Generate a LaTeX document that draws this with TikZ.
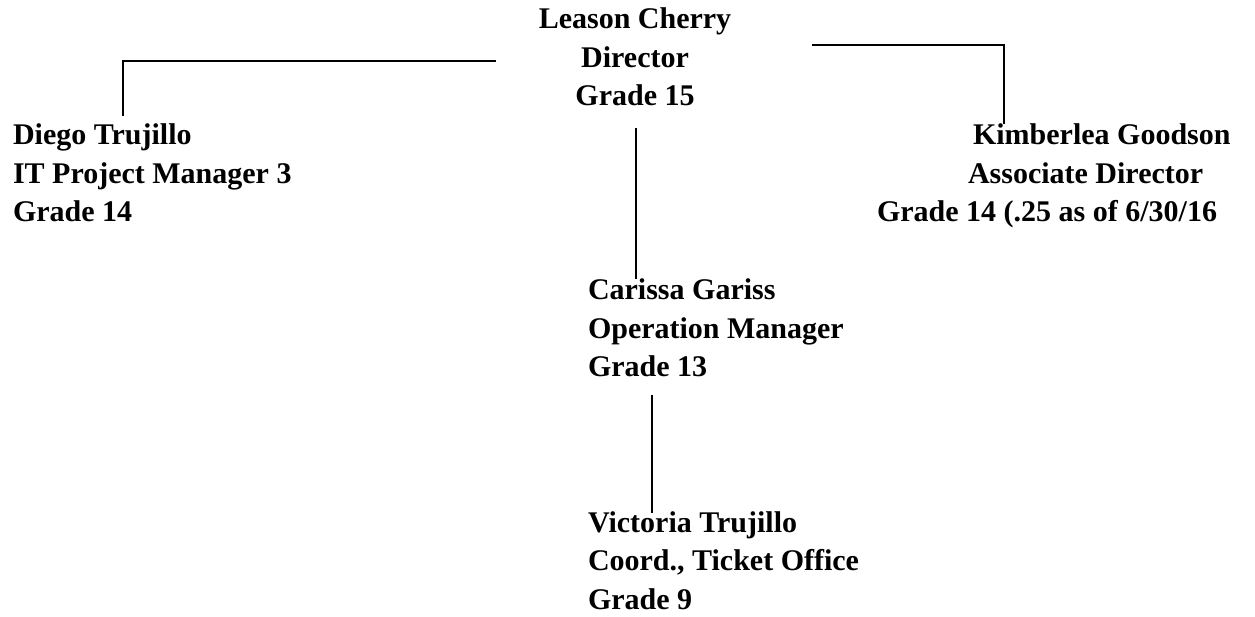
\documentclass[tikz,border=0pt]{standalone}
\usepackage{fontspec}
\setmainfont{Liberation Serif}
\begin{document}
\begin{tikzpicture}[x=1pt,y=-1pt,
  person/.style={inner sep=0pt,outer sep=0pt,anchor=base west,font=\fontsize{30}{38.5}\selectfont\bfseries},
  conn/.style={line width=1.8pt,black}]
\useasboundingbox (0,0) rectangle (1255,617);
% people
\node[person,anchor=base] (leason) at (635,29)
  {\begin{tabular}[t]{@{}c@{}}Leason Cherry\\Director\\Grade 15\end{tabular}};
\node[person] (diego) at (13,145)
  {\begin{tabular}[t]{@{}l@{}}Diego Trujillo\\IT Project Manager 3\\Grade 14\end{tabular}};
\node[person] (kim) at (877,145)
  {\begin{tabular}[t]{@{}l@{}}\hspace{96pt}Kimberlea Goodson\\\hspace{91pt}Associate Director\\Grade 14 (.25 as of 6/30/16\end{tabular}};
\node[person] (carissa) at (588,300)
  {\begin{tabular}[t]{@{}l@{}}Carissa Gariss\\Operation Manager\\Grade 13\end{tabular}};
\node[person] (victoria) at (588,532)
  {\begin{tabular}[t]{@{}l@{}}Victoria Trujillo\\Coord., Ticket Office\\Grade 9\end{tabular}};
% connector ends
\coordinate (leasonL) at (496,61);
\coordinate (diegoT) at (123,116);
\coordinate (leasonR) at (812,45);
\coordinate (kimT) at (1004,124);
\coordinate (leasonB) at (636,128);
\coordinate (carissaT) at (636,279);
\coordinate (carissaB) at (652,395);
\coordinate (victoriaT) at (652,513);
% connectors
\draw[conn] (leasonL) -| (diegoT);
\draw[conn] (leasonR) -| (kimT);
\draw[conn] (leasonB) -- (carissaT);
\draw[conn] (carissaB) -- (victoriaT);
\end{tikzpicture}
\end{document}
